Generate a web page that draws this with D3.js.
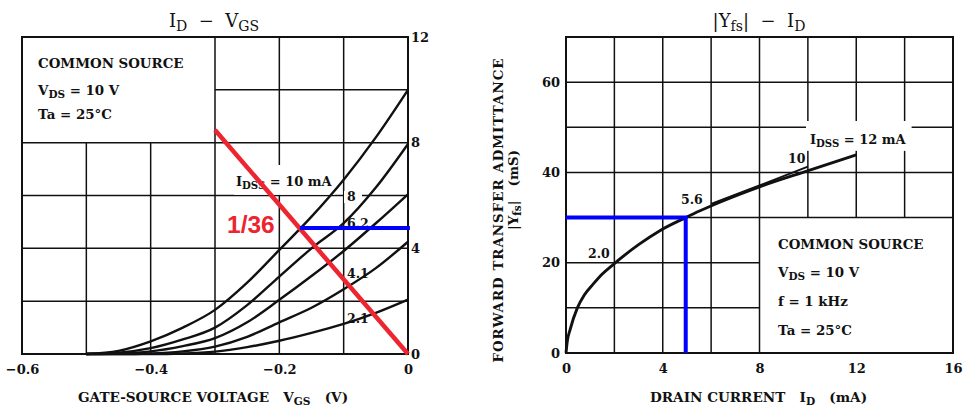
<!DOCTYPE html>
<html><head><meta charset="utf-8">
<script src="https://cdn.jsdelivr.net/npm/d3@7"></script>
<style>body{margin:0;background:#fff}svg{display:block}text{white-space:pre}</style>
</head><body>
<svg id="c" width="969" height="409"></svg>
<script>
// ---------- DATA ----------
// Left chart: I_D (mA) vs V_GS (V) for several I_DSS values
const vgs = [-0.5, -0.45, -0.4, -0.35, -0.3, -0.25, -0.2, -0.15, -0.1, -0.05, 0];
const idIdss10 = [0, 0.12, 0.48, 1.0, 1.67, 2.7, 3.94, 5.2, 6.6, 8.2, 10.0];
const idIdss8  = [0, 0.05, 0.22, 0.55, 1.0, 1.85, 2.93, 4.0, 4.95, 6.3, 7.95];
const idIdss62 = [0, 0.02, 0.1, 0.3, 0.6, 1.2, 2.05, 2.95, 3.9, 4.95, 6.05];
const idIdss41 = [0, 0, 0.02, 0.1, 0.28, 0.65, 1.2, 1.75, 2.45, 3.25, 4.25];
const idIdss21 = [0, 0, 0, 0.02, 0.09, 0.26, 0.5, 0.8, 1.14, 1.56, 2.06];
const leftCurveLabels = ["IDSS = 10 mA", "8", "6.2", "4.1", "2.1"];
const leftXTicks = [-0.6, -0.4, -0.2, 0];
const leftYTicks = [0, 4, 8, 12];
const redLineV = [-0.3, 0];
const redLineI = [8.48, 0];
const blueLineV = [-0.168, 0.003];
const blueLineI = [4.77, 4.77];

// Right chart: |Yfs| (mS) vs I_D (mA)
const idR  = [0, 0.05, 0.17, 0.47, 0.75, 1.13, 1.5, 1.95, 3, 3.88, 4.95, 5.54, 6.36, 8, 10.08, 12];
const yfsR = [0, 2.5, 5.2, 10, 12.8, 15.3, 17.5, 19.6, 24, 27.1, 30, 31.5, 33.4, 36.8, 40.5, 43.9];
const idR10  = [6, 8, 10];
const yfsR10 = [33.0, 37.1, 41.3];
const rightXTicks = [0, 4, 8, 12, 16];
const rightYTicks = [0, 20, 40, 60];
const blueRX = [0, 4.95, 4.95];
const blueRY = [30, 30, 0];

// ---------- DRAW ----------
const svg = d3.select('#c');
const SERIF = "'DejaVu Serif', serif";
const INK = '#111';

const xL = d3.scaleLinear([-0.6, 0], [22, 408]);
const yL = d3.scaleLinear([0, 12], [354, 37]);
const xR = d3.scaleLinear([0, 16], [566, 953]);
const yR = d3.scaleLinear([0, 70], [353, 37]);

function gline(g, x1, y1, x2, y2, w) {
  g.append('line').attr('x1', x1).attr('y1', y1).attr('x2', x2).attr('y2', y2)
    .attr('stroke', INK).attr('stroke-width', w || 1.5);
}

// text with subscripts: parts = [[text, isSub], ...]
function rich(g, x, y, parts, size, opts) {
  opts = opts || {};
  const t = g.append('text').attr('x', x).attr('y', y)
    .attr('font-family', SERIF).attr('font-size', size)
    .attr('font-weight', opts.weight || 'bold').attr('fill', INK)
    .attr('text-anchor', opts.anchor || 'start');
  if (opts.transform) t.attr('transform', opts.transform);
  if (opts.ls) t.attr('letter-spacing', opts.ls);
  let prevSub = false;
  parts.forEach(p => {
    const s = t.append('tspan').text(p[0]);
    const isSub = !!p[1];
    let dy = 0;
    if (isSub && !prevSub) dy = size * 0.22;
    if (!isSub && prevSub) dy = -size * 0.22;
    s.attr('dy', dy);
    if (isSub) s.attr('font-size', size * 0.78);
    prevSub = isSub;
  });
  return t;
}

function gap(g, textSel, pad) {
  const b = textSel.node().getBBox();
  g.insert('rect', () => textSel.node())
    .attr('x', b.x - pad[0]).attr('y', b.y - pad[2])
    .attr('width', b.width + pad[0] + pad[1]).attr('height', b.height + pad[2] + pad[3])
    .attr('fill', '#fff');
}

// ===== LEFT CHART =====
const L = svg.append('g');
const LG = L.append('g');
[2, 4, 6, 8].forEach(v => gline(LG, xL(-0.6), yL(v), xL(0), yL(v)));
gline(LG, xL(-0.3), yL(10), xL(0), yL(10));
[-0.5, -0.4].forEach(v => gline(LG, xL(v), yL(0), xL(v), yL(8)));
[-0.3, -0.2, -0.1].forEach(v => gline(LG, xL(v), yL(0), xL(v), yL(12)));
LG.append('rect').attr('x', xL(-0.6)).attr('y', yL(12))
  .attr('width', xL(0) - xL(-0.6)).attr('height', yL(0) - yL(12))
  .attr('fill', 'none').attr('stroke', INK).attr('stroke-width', 2);

const LT = L.append('g');
const lab10 = rich(LT, 236, 186, [["I", 0], ["DSS", 1], [" = 10 mA", 0]], 13);
gap(LT, lab10, [2, 2, 9, 4]);
const lab8 = rich(LT, 347, 201, [[leftCurveLabels[1], 0]], 12.5);
gap(LT, lab8, [3, 6, -2, -1]);
rich(LT, 347, 228, [[leftCurveLabels[2], 0]], 12.5);
rich(LT, 347, 278, [[leftCurveLabels[3], 0]], 12.5);
rich(LT, 347, 323, [[leftCurveLabels[4], 0]], 12.5);

const lineL = d3.line().x(d => xL(d[0])).y(d => yL(d[1])).curve(d3.curveMonotoneX);
[idIdss10, idIdss8, idIdss62, idIdss41, idIdss21].forEach(arr => {
  L.append('path').attr('d', lineL(vgs.map((v, i) => [v, arr[i]])))
    .attr('fill', 'none').attr('stroke', INK).attr('stroke-width', 2.4);
});

// legend
rich(L, 38, 68, [["COMMON SOURCE", 0]], 13.4);
rich(L, 38, 95, [["V", 0], ["DS", 1], [" = 10 V", 0]], 13.4);
rich(L, 38, 119, [["Ta = 25°C", 0]], 13.4);

// axes
const axL = L.append('g').attr('transform', `translate(0,${yL(0)})`)
  .call(d3.axisBottom(xL).tickValues(leftXTicks).tickSize(0).tickPadding(11)
    .tickFormat(d => d === 0 ? '0' : d3.format('.1f')(d)));
const ayL = L.append('g').attr('transform', `translate(${xL(0)},0)`)
  .call(d3.axisRight(yL).tickValues(leftYTicks).tickSize(0).tickPadding(3));
[axL, ayL].forEach(a => {
  a.select('.domain').remove();
  a.selectAll('text').attr('font-family', SERIF).attr('font-size', 13)
    .attr('font-weight', 'bold').attr('fill', INK);
});

// titles
rich(L, 214, 27, [["I", 0], ["D", 1], ["  −  V", 0], ["GS", 1]], 18, {anchor: 'middle', weight: 'normal'});
rich(L, 78, 402, [["GATE-SOURCE VOLTAGE   V", 0], ["GS", 1], ["   (V)", 0]], 13.6);

// red & blue annotations
const plainL = d3.line().x(d => xL(d[0])).y(d => yL(d[1]));
L.append('path').attr('d', plainL(redLineV.map((v, i) => [v, redLineI[i]])))
  .attr('stroke', '#ec2530').attr('stroke-width', 4.5).attr('fill', 'none');
L.append('path').attr('d', plainL(blueLineV.map((v, i) => [v, blueLineI[i]])))
  .attr('stroke', '#0000ff').attr('stroke-width', 4).attr('fill', 'none');
L.append('text').attr('x', 227).attr('y', 232.5).text('1/36')
  .attr('font-family', "'Liberation Sans', Arial, sans-serif").attr('font-weight', 'bold')
  .attr('font-size', 24.5).attr('fill', '#ec2530');

// ===== RIGHT CHART =====
const R = svg.append('g');
const RG = R.append('g');
[10, 20].forEach(v => gline(RG, xR(0), yR(v), xR(8), yR(v)));
[30, 40, 50, 60].forEach(v => gline(RG, xR(0), yR(v), xR(16), yR(v)));
[2, 4, 6, 8].forEach(v => gline(RG, xR(v), yR(0), xR(v), yR(70)));
[10, 12, 14].forEach(v => gline(RG, xR(v), yR(30), xR(v), yR(70)));
RG.append('rect').attr('x', xR(0)).attr('y', yR(70))
  .attr('width', xR(16) - xR(0)).attr('height', yR(0) - yR(70))
  .attr('fill', 'none').attr('stroke', INK).attr('stroke-width', 2);

const RT = R.append('g');
const lab12 = rich(RT, 810, 144, [["I", 0], ["DSS", 1], [" = 12 mA", 0]], 13);
gap(RT, lab12, [4, 5, 11, 2]);
rich(RT, 788, 163, [["10", 0]], 12.5);
rich(RT, 681, 204, [["5.6", 0]], 12.5);
rich(RT, 588, 258, [["2.0", 0]], 12.5);

const lineR = d3.line().x(d => xR(d[0])).y(d => yR(d[1])).curve(d3.curveMonotoneX);
R.append('path').attr('d', lineR(idR.map((v, i) => [v, yfsR[i]])))
  .attr('fill', 'none').attr('stroke', INK).attr('stroke-width', 2.9);
R.append('path').attr('d', lineR(idR10.map((v, i) => [v, yfsR10[i]])))
  .attr('fill', 'none').attr('stroke', INK).attr('stroke-width', 2);

// legend
rich(R, 778, 249, [["COMMON SOURCE", 0]], 13.4);
rich(R, 778, 277, [["V", 0], ["DS", 1], [" = 10 V", 0]], 13.4);
rich(R, 778, 306, [["f = 1 kHz", 0]], 13.4);
rich(R, 778, 335, [["Ta = 25°C", 0]], 13.4);

const axR = R.append('g').attr('transform', `translate(0,${yR(0)})`)
  .call(d3.axisBottom(xR).tickValues(rightXTicks).tickSize(0).tickPadding(11));
const ayR = R.append('g').attr('transform', `translate(${xR(0)},0)`)
  .call(d3.axisLeft(yR).tickValues(rightYTicks).tickSize(0).tickPadding(6));
[axR, ayR].forEach(a => {
  a.select('.domain').remove();
  a.selectAll('text').attr('font-family', SERIF).attr('font-size', 13)
    .attr('font-weight', 'bold').attr('fill', INK);
});

rich(R, 759, 27, [["|Y", 0], ["fs", 1], ["|  −  I", 0], ["D", 1]], 18, {anchor: 'middle', weight: 'normal'});
rich(R, 650, 402, [["DRAIN CURRENT   I", 0], ["D", 1], ["   (mA)", 0]], 13.6);
rich(R, 0, 0, [["FORWARD TRANSFER ADMITTANCE", 0]], 13.4,
  {anchor: 'middle', transform: 'translate(503,210) rotate(-90)', ls: 1});
rich(R, 0, 0, [["|Y", 0], ["fs", 1], ["|   (mS)", 0]], 13.4,
  {anchor: 'middle', transform: 'translate(518,190) rotate(-90)'});

const plainR = d3.line().x(d => xR(d[0])).y(d => yR(d[1]));
R.append('path').attr('d', plainR(blueRX.map((v, i) => [v, blueRY[i]])))
  .attr('stroke', '#0000ff').attr('stroke-width', 4).attr('fill', 'none');
</script>
</body></html>
